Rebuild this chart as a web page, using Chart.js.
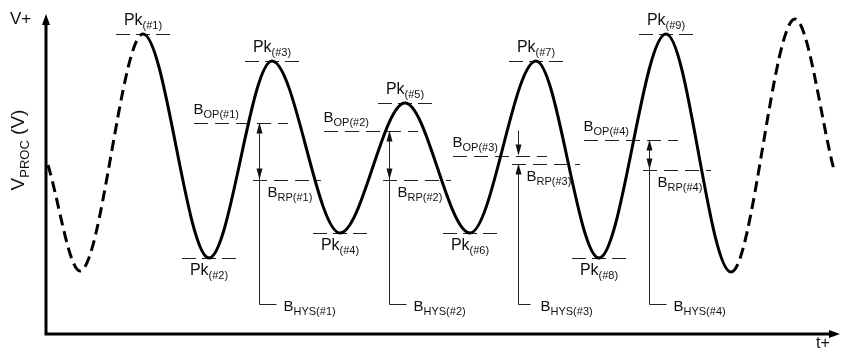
<!DOCTYPE html>
<html>
<head>
<meta charset="utf-8">
<script src="https://cdn.jsdelivr.net/npm/chart.js@4.4.1/dist/chart.umd.min.js"></script>
<style>
    html, body { margin: 0; padding: 0; background: #fff; }
    #wrap { width: 841px; height: 358px; }
</style>
</head>
<body>
<div id="wrap"><canvas id="c" width="841" height="358"></canvas></div>
<script>
// turning points of V_PROC over time (picture units)
var times = [2, 34, 97, 163, 226, 294, 359, 424, 490, 553, 620, 685, 749, 788];
var volts = [169, 63, 300, 76, 273, 101, 231, 101, 273, 76, 300, 62, 315, 164];

// peak markers: label and the point they sit on
var peakNames = ['(#1)', '(#2)', '(#3)', '(#4)', '(#5)', '(#6)', '(#7)', '(#8)', '(#9)'];
var peakPoints = [2, 3, 4, 5, 6, 7, 8, 9, 10];

// operate / release levels and hysteresis markers
var hysNames = ['(#1)', '(#2)', '(#3)', '(#4)'];
var hysTimes = [213, 343, 472, 603];
var bopLevels = [212, 204, 179, 195];
var brpLevels = [155, 155, 171, 165];

var FONT = "'Liberation Sans', Arial, sans-serif";
var INK = '#111';

function richText(ctx, x, y, parts, align) {
    var w = 0;
    parts.forEach(function (p) {
        ctx.font = p.size + 'px ' + FONT;
        p.w = ctx.measureText(p.t).width;
        w += p.w;
    });
    var sx = align === 'center' ? x - w / 2 : x;
    ctx.textAlign = 'left';
    ctx.textBaseline = 'alphabetic';
    parts.forEach(function (p) {
        ctx.font = p.size + 'px ' + FONT;
        ctx.fillText(p.t, sx, y + (p.dy || 0));
        sx += p.w;
    });
}

function arrowHead(ctx, x, y, dir) {
    // dir 1 = pointing down, -1 = pointing up
    ctx.beginPath();
    ctx.moveTo(x, y);
    ctx.lineTo(x - 3, y - dir * 11);
    ctx.lineTo(x + 3, y - dir * 11);
    ctx.closePath();
    ctx.fill();
}

function hline(ctx, x1, x2, y, dash) {
    var yy = Math.round(y) + 0.5;
    ctx.setLineDash(dash || []);
    ctx.beginPath();
    ctx.moveTo(Math.round(x1), yy);
    ctx.lineTo(Math.round(x2), yy);
    ctx.stroke();
    ctx.setLineDash([]);
}

var annotations = {
    id: 'annotations',
    beforeDatasetsDraw: function (chart) {
        var ctx = chart.ctx;
        var xs = chart.scales.x, ys = chart.scales.y;
        var bracketY = Math.round(ys.getPixelForValue(30)) + 0.5;
        ctx.save();
        ctx.strokeStyle = '#222';
        ctx.fillStyle = INK;

        // peak markers
        ctx.lineWidth = 1;
        peakPoints.forEach(function (idx, i) {
            var px = xs.getPixelForValue(times[idx]);
            var py = ys.getPixelForValue(volts[idx]);
            hline(ctx, px - 27, px + 27, py, [14, 6]);
            var up = volts[idx] > volts[idx - 1];
            var by = up ? py - 9 : py + 17;
            richText(ctx, px, by, [
                { t: 'Pk', size: 16 },
                { t: peakNames[i], size: 11, dy: 4 }
            ], 'center');
        });

        // B_OP / B_RP levels and hysteresis
        hysTimes.forEach(function (t, i) {
            var ax = Math.round(xs.getPixelForValue(t)) + 0.5;
            var opY = Math.round(ys.getPixelForValue(bopLevels[i])) + 0.5;
            var rpY = Math.round(ys.getPixelForValue(brpLevels[i])) + 0.5;
            ctx.lineWidth = 1;
            hline(ctx, ax - 66, ax + 28, opY, [14, 7]);
            hline(ctx, ax - 7, ax + 61, rpY, [14, 7]);
            richText(ctx, ax - 66, opY - 9, [
                { t: 'B', size: 15 },
                { t: 'OP' + hysNames[i], size: 11, dy: 4 }
            ]);
            richText(ctx, ax + 8, rpY + 17, [
                { t: 'B', size: 15 },
                { t: 'RP' + hysNames[i], size: 11, dy: 4 }
            ]);

            if (rpY - opY > 20) {
                ctx.beginPath();
                ctx.moveTo(ax, opY + 2);
                ctx.lineTo(ax, bracketY);
                ctx.lineTo(ax + 17, bracketY);
                ctx.stroke();
                arrowHead(ctx, ax, opY, -1);
                arrowHead(ctx, ax, rpY, 1);
            } else {
                ctx.beginPath();
                ctx.moveTo(ax, opY - 25);
                ctx.lineTo(ax, opY - 2);
                ctx.moveTo(ax, rpY + 2);
                ctx.lineTo(ax, bracketY);
                ctx.lineTo(ax + 12, bracketY);
                ctx.stroke();
                arrowHead(ctx, ax, opY, 1);
                arrowHead(ctx, ax, rpY, -1);
            }
            var lx = ax + (rpY - opY > 20 ? 24 : 22);
            richText(ctx, lx, bracketY + 6, [
                { t: 'B', size: 15 },
                { t: 'HYS' + hysNames[i], size: 11, dy: 4 }
            ]);
        });
        ctx.restore();
    },
    afterDatasetsDraw: function (chart) {
        var ctx = chart.ctx;
        var a = chart.chartArea;
        ctx.save();
        ctx.strokeStyle = '#000';
        ctx.fillStyle = '#000';
        ctx.lineWidth = 3;
        ctx.beginPath();
        ctx.moveTo(a.left, a.top + 8);
        ctx.lineTo(a.left, a.bottom);
        ctx.lineTo(a.right - 8, a.bottom);
        ctx.stroke();
        // arrow tips
        ctx.beginPath();
        ctx.moveTo(a.left, a.top);
        ctx.lineTo(a.left - 4, a.top + 11);
        ctx.lineTo(a.left + 4, a.top + 11);
        ctx.closePath();
        ctx.fill();
        ctx.beginPath();
        ctx.moveTo(a.right, a.bottom);
        ctx.lineTo(a.right - 11, a.bottom - 4);
        ctx.lineTo(a.right - 11, a.bottom + 4);
        ctx.closePath();
        ctx.fill();

        ctx.fillStyle = INK;
        richText(ctx, 10, 24, [{ t: 'V+', size: 17 }]);
        richText(ctx, 816, 348, [{ t: 't+', size: 16 }]);
        ctx.translate(24, 150);
        ctx.rotate(-Math.PI / 2);
        richText(ctx, 0, 0, [
            { t: 'V', size: 19 },
            { t: 'PROC', size: 13, dy: 5 },
            { t: ' (V)', size: 19 }
        ], 'center');
        ctx.restore();
    }
};

var points = times.map(function (t, i) { return { x: t, y: volts[i] }; });

new Chart(document.getElementById('c'), {
    type: 'line',
    data: {
        datasets: [{
            data: points,
            borderColor: '#000',
            borderWidth: 3,
            pointRadius: 0,
            cubicInterpolationMode: 'monotone',
            clip: false,
            segment: {
                borderDash: function (ctx) {
                    return (ctx.p0DataIndex <= 1 || ctx.p0DataIndex >= 11) ? [11, 6] : [];
                }
            }
        }]
    },
    options: {
        responsive: false,
        animation: false,
        devicePixelRatio: 1,
        layout: { padding: { left: 46, right: 1, top: 14, bottom: 24 } },
        plugins: { legend: { display: false }, tooltip: { enabled: false } },
        scales: {
            x: { type: 'linear', display: false, min: 0, max: 794 },
            y: { type: 'linear', display: false, min: 0, max: 320 }
        }
    },
    plugins: [annotations]
});
</script>
</body>
</html>
